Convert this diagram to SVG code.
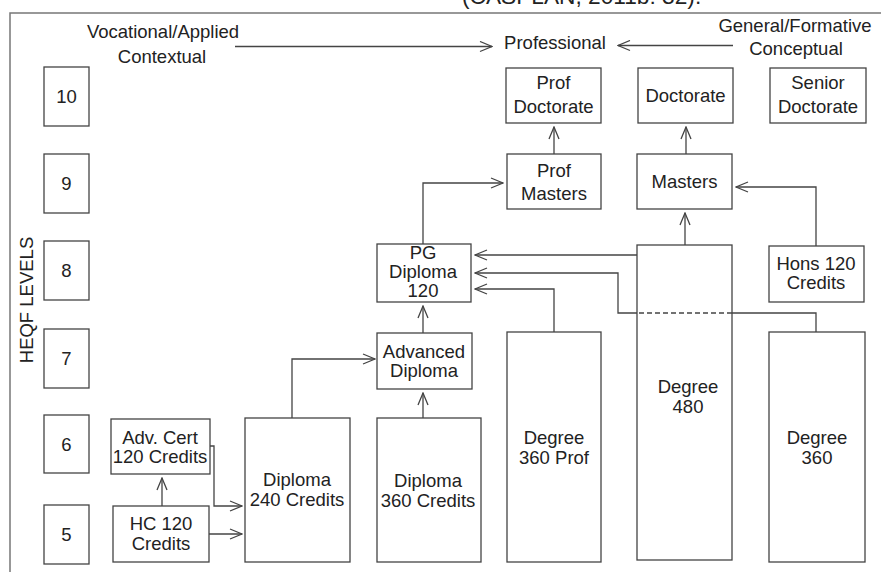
<svg xmlns="http://www.w3.org/2000/svg" width="881" height="572" viewBox="0 0 881 572">
<defs>
<style>
.box{fill:#fff;stroke:#444;stroke-width:1.3}
.t{font-family:"Liberation Sans",Arial,sans-serif;font-size:18.5px;fill:#222;text-anchor:middle}
.c{fill:none;stroke:#444;stroke-width:1.3}
.frame{fill:none;stroke:#777;stroke-width:1.5}
</style>
<marker id="ah" viewBox="0 0 14 12" refX="13" refY="6" markerWidth="14" markerHeight="12" markerUnits="userSpaceOnUse" orient="auto">
<path d="M1,1 L13,6 L1,11" fill="none" stroke="#444" stroke-width="1.3"/>
</marker>
</defs>
<rect width="881" height="572" fill="#fff"/>
<text x="462" y="4" font-family="Liberation Sans, Arial, sans-serif" font-size="22.7" fill="#222">(CASPLAN, 2011b: 32).</text>
<path class="frame" d="M10,572 V13 H881"/>
<text class="t" x="163" y="38">Vocational/Applied<tspan x="162" y="63">Contextual</tspan></text>
<text class="t" x="555" y="49">Professional</text>
<text class="t" x="795" y="32">General/Formative<tspan x="796" y="55">Conceptual</tspan></text>
<text class="t" transform="translate(33,300) rotate(-90)" font-size="18">HEQF LEVELS</text>
<g id="lv10"><rect class="box" x="44" y="67" width="45" height="59"/><text class="t" x="66.5" y="103">10</text></g>
<g id="lv9"><rect class="box" x="44" y="154" width="45" height="59"/><text class="t" x="66.5" y="190">9</text></g>
<g id="lv8"><rect class="box" x="44" y="241" width="45" height="59"/><text class="t" x="66.5" y="277">8</text></g>
<g id="lv7"><rect class="box" x="44" y="329" width="45" height="59"/><text class="t" x="66.5" y="365">7</text></g>
<g id="lv6"><rect class="box" x="44" y="415" width="45" height="58"/><text class="t" x="66.5" y="451">6</text></g>
<g id="lv5"><rect class="box" x="44" y="505" width="45" height="59"/><text class="t" x="66.5" y="541">5</text></g>
<g id="profdoc"><rect class="box" x="506" y="68" width="95" height="55"/><text class="t" x="553.5" y="89">Prof<tspan x="553.5" y="113">Doctorate</tspan></text></g>
<g id="doctorate"><rect class="box" x="638" y="68" width="95" height="55"/><text class="t" x="685.5" y="102">Doctorate</text></g>
<g id="seniordoc"><rect class="box" x="770" y="68" width="96" height="55"/><text class="t" x="818" y="89">Senior<tspan x="818" y="113">Doctorate</tspan></text></g>
<g id="profmasters"><rect class="box" x="507" y="154" width="94" height="55"/><text class="t" x="554" y="177">Prof<tspan x="554" y="200">Masters</tspan></text></g>
<g id="masters"><rect class="box" x="637" y="154" width="95" height="55"/><text class="t" x="684.5" y="188">Masters</text></g>
<g id="pgdip"><rect class="box" x="377" y="244" width="94" height="58"/><text class="t" x="423" y="259" font-size="17.5">PG<tspan x="423" y="278">Diploma</tspan><tspan x="423" y="297">120</tspan></text></g>
<g id="hons"><rect class="box" x="769" y="246" width="95" height="56"/><text class="t" x="816" y="270">Hons 120<tspan x="816" y="289">Credits</tspan></text></g>
<g id="advdip"><rect class="box" x="377" y="333" width="95" height="56"/><text class="t" x="424" y="358">Advanced<tspan x="424" y="377">Diploma</tspan></text></g>
<g id="deg480"><rect class="box" x="637" y="245" width="95" height="315"/><text class="t" x="688" y="393">Degree<tspan x="688" y="413">480</tspan></text></g>
<g id="deg360prof"><rect class="box" x="507" y="332" width="94" height="230"/><text class="t" x="554" y="444">Degree<tspan x="554" y="464">360 Prof</tspan></text></g>
<g id="deg360"><rect class="box" x="769" y="332" width="96" height="230"/><text class="t" x="817" y="444">Degree<tspan x="817" y="464">360</tspan></text></g>
<g id="dip360"><rect class="box" x="377" y="418" width="104" height="144"/><text class="t" x="428" y="487">Diploma<tspan x="428" y="507">360 Credits</tspan></text></g>
<g id="dip240"><rect class="box" x="245" y="418" width="105" height="144"/><text class="t" x="297" y="486">Diploma<tspan x="297" y="506">240 Credits</tspan></text></g>
<g id="advcert"><rect class="box" x="111" y="419" width="99" height="55"/><text class="t" x="160" y="444">Adv. Cert<tspan x="160" y="463">120 Credits</tspan></text></g>
<g id="hc"><rect class="box" x="113" y="506" width="96" height="56"/><text class="t" x="161" y="530">HC 120<tspan x="161" y="550">Credits</tspan></text></g>
<g id="connectors">
<path class="c" d="M235,46.5 H492" marker-end="url(#ah)"/>
<path class="c" d="M733,45.5 H618" marker-end="url(#ah)"/>
<path class="c" d="M554,154 V127" marker-end="url(#ah)"/>
<path class="c" d="M686,154 V127" marker-end="url(#ah)"/>
<path class="c" d="M423,244 V183 H503" marker-end="url(#ah)"/>
<path class="c" d="M685,245 V213" marker-end="url(#ah)"/>
<path class="c" d="M816,246 V187 H736" marker-end="url(#ah)"/>
<path class="c" d="M637,255 H475" marker-end="url(#ah)"/>
<path class="c" d="M816,332 V313 H732"/>
<path class="c" d="M732,313 H637" stroke-dasharray="5,3"/>
<path class="c" d="M637,313 H618 V273 H475" marker-end="url(#ah)"/>
<path class="c" d="M554,332 V289 H475" marker-end="url(#ah)"/>
<path class="c" d="M423,333 V306" marker-end="url(#ah)"/>
<path class="c" d="M423,418 V393" marker-end="url(#ah)"/>
<path class="c" d="M292,418 V359 H375" marker-end="url(#ah)"/>
<path class="c" d="M162,506 V478" marker-end="url(#ah)"/>
<path class="c" d="M210,446 H214 V506 H242" marker-end="url(#ah)"/>
<path class="c" d="M209,534 H242" marker-end="url(#ah)"/>
</g>
</svg>
